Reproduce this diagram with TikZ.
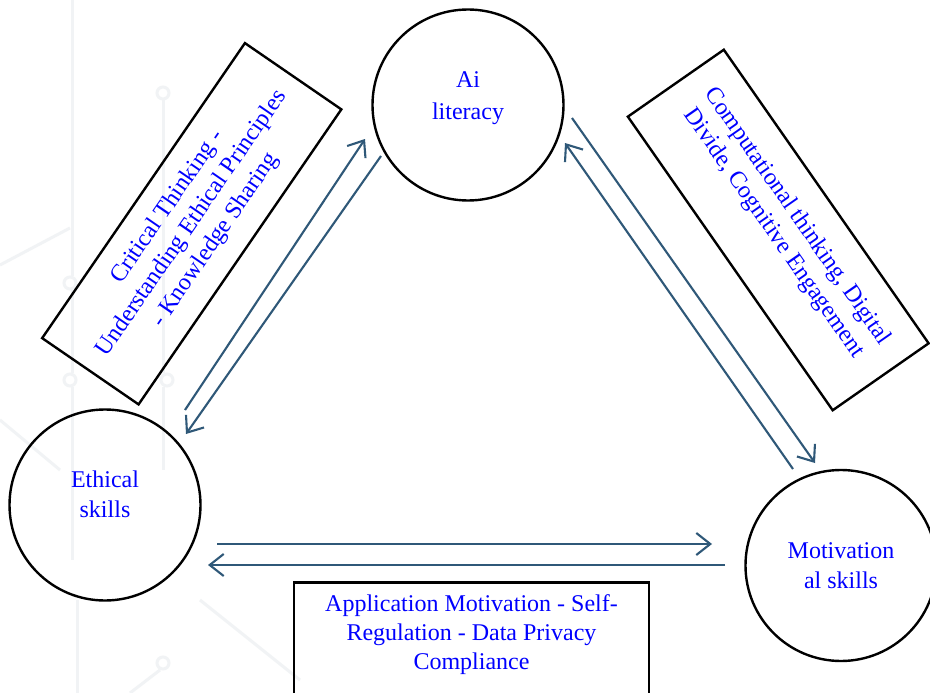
\documentclass[tikz,border=0pt]{standalone}
\usepackage{fontspec}
\setmainfont{Liberation Serif}
\usetikzlibrary{arrows.meta}
\definecolor{arrowblue}{HTML}{2F5878}
\definecolor{txtblue}{HTML}{0000FF}
\definecolor{bggray}{HTML}{F1F3F5}
\begin{document}
\begin{tikzpicture}[x=1pt,y=-1pt,
  skill/.style={circle, draw=black, line width=2.4pt, minimum size=191pt, inner sep=0pt},
  skilltext/.style={align=center, text=txtblue, inner sep=0pt, font=\fontsize{24}{30}\selectfont},
  labelbox/.style={draw=black, line width=2.4pt, minimum width=358pt, minimum height=117pt, inner sep=0pt},
  boxtext/.style={align=center, text=txtblue, inner sep=0pt, font=\fontsize{24}{29}\selectfont},
  arr/.style={-{Straight Barb[length=14pt,width=22pt,line width=2.1pt]}, draw=arrowblue, line width=2.1pt},
  harr/.style={arr, line width=2.7pt},
  deco/.style={draw=bggray, line width=3pt},
]
\fill[white] (0,0) rectangle (930,693);
\useasboundingbox (0,0) rectangle (930,693);
% faint background decoration
\draw[deco] (72,0) -- (72,276) (72,290) -- (72,373) (72,387) -- (72,560);
\draw[deco] (163,100) -- (163,373) (163,387) -- (163,470);
\draw[deco] (0,265) -- (70,228);
\draw[deco] (0,420) -- (60,470);
\draw[deco] (77,600) -- (77,693);
\draw[deco] (160,670) -- (130,693);
\draw[deco] (200,600) -- (300,680);
\foreach \p in {(163,93),(70,283),(70,380),(167,380),(163,663)}
  \draw[deco] \p circle (6);

% circles
\node[skill] (ai) at (468,105) {};
\node[skilltext, font=\fontsize{24}{32}\selectfont] (ai-t) at (468,98) {Ai\\literacy};
\node[skill] (eth) at (105,505) {};
\node[skilltext] (eth-t) at (105,494) {Ethical\\skills};
\node[skill] (mot) at (841,565.5) {};
\node[skilltext] (mot-t) at (841,566) {Motivation\\al skills};

% label boxes
\node[labelbox, rotate=55.5] (lbox) at (191.75,223.75) {};
\node[boxtext, rotate=55.5] (lbox-t) at (lbox.center) {Critical Thinking -\\Understanding Ethical Principles\\- Knowledge Sharing};
\node[labelbox, rotate=-55.1] (rbox) at (778.25,230) {};
\node[boxtext, rotate=-55.1] (rbox-t) at ([shift={(7,-5)}]rbox.center) {Computational thinking, Digital\\Divide, Cognitive Engagement};
\draw[draw=black, line width=2.6pt] (294,582.5) rectangle (649,740);
\coordinate (bbox) at (471.5,635);
\node[boxtext] (bbox-t) at (bbox) {Application Motivation - Self-\\Regulation - Data Privacy\\Compliance};

% connectors
\draw[arr] ([shift={(80,-95)}]eth.center) -- ([shift={(-103,34)}]ai.center);
\draw[arr] ([shift={(-87,51)}]ai.center) -- ([shift={(81,-71)}]eth.center);
\draw[arr] ([shift={(104,13)}]ai.center) -- ([shift={(-26,-102.5)}]mot.center);
\draw[arr] ([shift={(-48,-96.5)}]mot.center) -- ([shift={(97,38)}]ai.center);
\draw[harr] ([shift={(112,39)}]eth.center) -- ([shift={(-129,-21.5)}]mot.center);
\draw[harr] ([shift={(-116,-0.5)}]mot.center) -- ([shift={(103,60)}]eth.center);
\end{tikzpicture}
\end{document}
